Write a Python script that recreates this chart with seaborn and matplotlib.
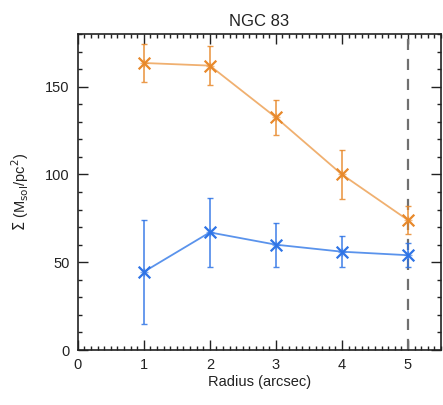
import matplotlib
matplotlib.use("Agg")
import matplotlib.pyplot as plt
from matplotlib.ticker import MultipleLocator
import seaborn as sns
import pandas as pd
import numpy as np

radius = [1, 2, 3, 4, 5]
orange_vals = [163.5, 162.0, 132.5, 100.0, 74.0]
orange_err = [10.7, 11.0, 10.0, 14.0, 8.0]
blue_vals = [44.5, 67.0, 60.0, 56.0, 54.0]
blue_err = [29.5, 19.5, 12.5, 9.0, 7.0]
xticks = [0, 1, 2, 3, 4, 5]
yticks = [0, 50, 100, 150]

orange = "#E8892B"
orange_line = "#F0B070"
blue = "#2F74E6"
blue_line = "#5A93EC"

sns.set_style("ticks")
plt.rcParams['font.family'] = ['Liberation Sans', 'DejaVu Sans']

fig = plt.figure(figsize=(4.43, 4.05), dpi=100)
ax = fig.add_axes([0.1754, 0.1358, 0.9955 - 0.1754, 0.916 - 0.1358])

df = pd.DataFrame({
    "r": radius * 2,
    "s": orange_vals + blue_vals,
    "err": orange_err + blue_err,
    "grp": ["o"] * 5 + ["b"] * 5,
})

sns.lineplot(data=df, x="r", y="s", hue="grp", palette={"o": orange_line, "b": blue_line},
             legend=False, ax=ax, linewidth=1.3, zorder=2)
for g, c in [("o", orange), ("b", blue)]:
    sub = df[df.grp == g]
    ax.errorbar(sub.r, sub.s, yerr=sub.err, fmt="none", ecolor=c, elinewidth=1.2,
                capsize=2, capthick=1.0, alpha=0.85, zorder=3)
    ax.scatter(sub.r, sub.s, marker="x", s=70, color=c, linewidths=1.6, zorder=4)
    ax.scatter(sub.r, sub.s, marker="+", s=30, color=c, linewidths=1.0, zorder=4, alpha=0.6)

ax.axvline(5, color="#707070", linestyle=(0, (5, 4)), linewidth=1.6, zorder=1)

ax.set_xlim(0, 5.5)
ax.set_ylim(0, 180)
ax.set_xticks(xticks)
ax.set_yticks(yticks)
ax.xaxis.set_minor_locator(MultipleLocator(0.1))
ax.yaxis.set_minor_locator(MultipleLocator(10))
ax.tick_params(which="both", direction="in", top=True, right=True, colors="#222222",
               labelsize=10.5, width=1.0, labelcolor="#222222")
ax.tick_params(which="major", length=7, pad=6)
ax.tick_params(which="minor", length=3)
for sp in ax.spines.values():
    sp.set_linewidth(1.2)
    sp.set_color("#222222")

ax.set_xlabel("Radius (arcsec)", fontsize=10.5, color="#222222", labelpad=2)
ax.set_ylabel(r"$\Sigma$ (M$_{\rm sol}$/pc$^2$)", fontsize=10.5, color="#222222", labelpad=10)
ax.set_title("NGC 83", fontsize=12, color="#222222", pad=6)

fig.savefig("out.png", dpi=100)
